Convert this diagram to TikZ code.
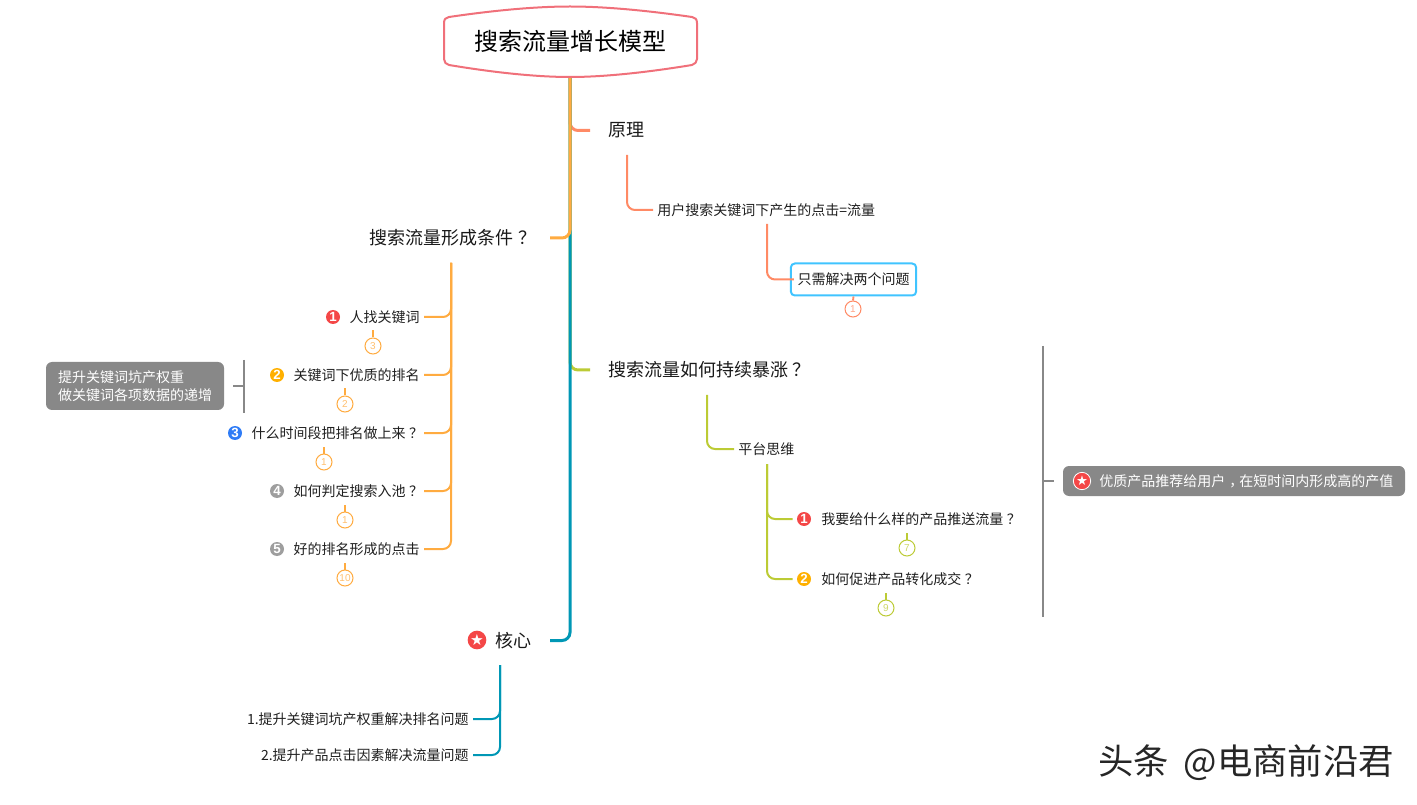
\documentclass[tikz,border=0pt]{standalone}
\usepackage{fontspec}
\setmainfont{Noto Sans CJK SC}
\newfontfamily\symfont{DejaVu Sans}
\newfontfamily\numfont{Liberation Sans}
\newcommand{\qm}{\makebox[1em][l]{\hspace{.25em}？}}
\newcommand{\cm}{\makebox[1em][l]{\hspace{.3em}，}}
\definecolor{salmon}{HTML}{FF8A65}
\definecolor{amber}{HTML}{FFAB40}
\definecolor{olive}{HTML}{BCCB35}
\definecolor{teal}{HTML}{0097B5}
\definecolor{skyb}{HTML}{40C4FF}
\definecolor{greyb}{HTML}{888888}
\definecolor{rootc}{HTML}{F0707A}
\definecolor{icred}{HTML}{F44747}
\definecolor{icyel}{HTML}{FFB000}
\definecolor{icblu}{HTML}{2F7CF6}
\definecolor{icgry}{HTML}{9E9E9E}
\tikzset{
  x=0.75pt,y=-0.75pt,
  lbl/.style={inner sep=0pt,font=\fontsize{10.5pt}{13pt}\selectfont,text=black!88},
  big/.style={inner sep=0pt,font=\fontsize{13.5pt}{16pt}\selectfont,text=black!90},
  trunk/.style={line width=2.25pt,rounded corners=6pt,shorten >=13.5pt},
  twig/.style={line width=1.5pt,rounded corners=6pt,shorten >=3pt},
  badge/.style={circle,draw=#1,line width=.75pt,fill=white,minimum size=12pt,inner sep=0pt,text=#1!75,font=\numfont\fontsize{7.5pt}{8pt}\selectfont},
  stem/.style={line width=1.4pt,draw=#1},
  ico/.style={circle,fill=#1,minimum size=10.5pt,inner sep=0pt,text=white,font=\numfont\bfseries\fontsize{10pt}{10pt}\selectfont},
  staric/.style={circle,fill=icred,minimum size=#1,inner sep=0pt,text=white},
  greybox/.style={fill=greyb,rounded corners=4.5pt,inner sep=0pt,text=white},
  bracket/.style={line width=1.5pt,draw=greyb},
  tick/.style={line width=1.2pt,draw=greyb}
}
\begin{document}
\begin{tikzpicture}
\useasboundingbox (0,0) rectangle (1417,805);
% root
\node[inner sep=0pt,minimum width=190pt,minimum height=53pt] (root) at (570,41.5) {};
% branch titles
\node[big,anchor=west] (yuanli) at (608,130.5) {原理};
\node[big,anchor=east] (cond) at (532,238) {搜索流量形成条件\qm};
\node[big,anchor=west] (grow) at (608,370) {搜索流量如何持续暴涨\qm};
\node[big,anchor=east] (core) at (532,640.5) {核心};
% trunk
\draw[trunk,salmon] (root.south) |- (yuanli.west);
\draw[trunk,olive] (root.south) |- (grow.west);
\draw[trunk,teal] (root.south) |- (core.east);
\draw[trunk,amber] (root.south) |- (cond.east);
% root shape
\draw[line width=1.5pt,rootc,fill=white,line join=round]
  (449,17) .. controls (500,9.5) and (540,6.5) .. (570,6.5)
  .. controls (600,6.5) and (640,9.5) .. (692,17)
  .. controls (695,17.5) and (697,19) .. (697,23) -- (697,59)
  .. controls (697,62) and (695,64) .. (692,65)
  .. controls (640,73.5) and (600,77) .. (570,77)
  .. controls (540,77) and (500,73.5) .. (449,65)
  .. controls (446,64.5) and (444,62) .. (444,59) -- (444,23)
  .. controls (444,19) and (446,17.5) .. (449,17) -- cycle;
\node[inner sep=0pt,font=\fontsize{18pt}{20pt}\selectfont] (roott) at (570,41.5) {搜索流量增长模型};
% principle
\node[lbl,anchor=west] (yh) at (657,210) {用户搜索关键词下产生的点击=流量};
\node[lbl,draw=skyb,line width=1.5pt,fill=white,rounded corners=3pt,minimum width=94pt,minimum height=24pt] (two) at (853.5,279.5) {只需解决两个问题};
\node[badge=salmon] (b0) at (853,309) {1};
\coordinate (c1) at (627,155);
\coordinate (c2) at (767,224);
\draw[twig,salmon] (c1) |- (yh.west);
\draw[twig,salmon,shorten >=-3pt] (c2) |- (two.west);
\draw[stem=salmon] (two.south) -- (b0.north);
% conditions
\node[lbl,anchor=east] (q1) at (420,317) {人找关键词};
\node[lbl,anchor=east] (q2) at (420,375) {关键词下优质的排名};
\node[lbl,anchor=east] (q3) at (420,433) {什么时间段把排名做上来\qm};
\node[lbl,anchor=east] (q4) at (420,491) {如何判定搜索入池\qm};
\node[lbl,anchor=east] (q5) at (420,549) {好的排名形成的点击};
\node[ico=icred] (i1) at (333,317) {1};
\node[ico=icyel] (i2) at (277,375) {2};
\node[ico=icblu] (i3) at (235,433) {3};
\node[ico=icgry] (i4) at (277,491) {4};
\node[ico=icgry] (i5) at (277,549) {5};
\node[badge=amber] (b1) at (373,346) {3};
\node[badge=amber] (b2) at (345,404) {2};
\node[badge=amber] (b3) at (324,462) {1};
\node[badge=amber] (b4) at (345,520) {1};
\node[badge=amber] (b5) at (345,578) {10};
\coordinate (c3) at (451,263);
\foreach \q in {q1,q2,q3,q4,q5}{\draw[twig,amber] (c3) |- (\q.east);}
\foreach \b in {b1,b2,b3,b4,b5}{\draw[stem=amber] (\b.north) -- ++(0,-7);}
% note left
\node[greybox,minimum width=133.5pt,minimum height=36pt,align=left,font=\fontsize{10.5pt}{14pt}\selectfont] (n1) at (135,386) {提升关键词坑产权重\\做关键词各项数据的递增};
\coordinate (br1) at (244,360);
\coordinate (br2) at (244,413);
\coordinate (br3) at (233,386);
\coordinate (br4) at (244,386);
\draw[bracket] (br1) -- (br2);
\draw[tick] (br3) -- (br4);
% growth
\node[lbl,anchor=west] (pt) at (738,449) {平台思维};
\node[lbl,anchor=west] (r1) at (821,519) {我要给什么样的产品推送流量\qm};
\node[lbl,anchor=west] (r2) at (821,579) {如何促进产品转化成交\qm};
\node[ico=icred] (i6) at (804,519) {1};
\node[ico=icyel] (i7) at (804,579) {2};
\node[badge=olive] (b6) at (907,548) {7};
\node[badge=olive] (b7) at (886,608) {9};
\coordinate (c4) at (707,395);
\coordinate (c5) at (767,464);
\draw[twig,olive] (c4) |- (pt.west);
\draw[twig,olive,shorten >=3pt] (c5) |- (i6.west);
\draw[twig,olive,shorten >=3pt] (c5) |- (i7.west);
\foreach \b in {b6,b7}{\draw[stem=olive] (\b.north) -- ++(0,-7);}
% note right
\node[greybox,minimum width=256.5pt,minimum height=22.5pt] (n2) at (1234,481) {};
\node[staric=13pt,draw=white,line width=.6pt,font=\symfont\fontsize{10pt}{10pt}\selectfont] (s2) at (1082,481) {★};
\node[inner sep=0pt,anchor=west,text=white,font=\fontsize{10.5pt}{13pt}\selectfont] (n2t) at (1099,481) {优质产品推荐给用户\cm 在短时间内形成高的产值};
\coordinate (br5) at (1043,346);
\coordinate (br6) at (1043,617);
\coordinate (br7) at (1054,481);
\coordinate (br8) at (1043,481);
\draw[bracket] (br5) -- (br6);
\draw[tick] (br8) -- (br7);
% core
\node[staric=14pt,font=\symfont\fontsize{11.5pt}{12pt}\selectfont] (s1) at (477,640) {★};
\node[lbl,anchor=east] (k1) at (469,719) {1.提升关键词坑产权重解决排名问题};
\node[lbl,anchor=east] (k2) at (469,755) {2.提升产品点击因素解决流量问题};
\coordinate (c6) at (500,665);
\draw[twig,teal] (c6) |- (k1.east);
\draw[twig,teal] (c6) |- (k2.east);
% watermark
\node[inner sep=0pt,anchor=east,font=\fontsize{26.5pt}{28pt}\selectfont,text=black!85] (wm) at (1394,763) {头条\hspace{5pt} @电商前沿君};
\end{tikzpicture}
\end{document}
